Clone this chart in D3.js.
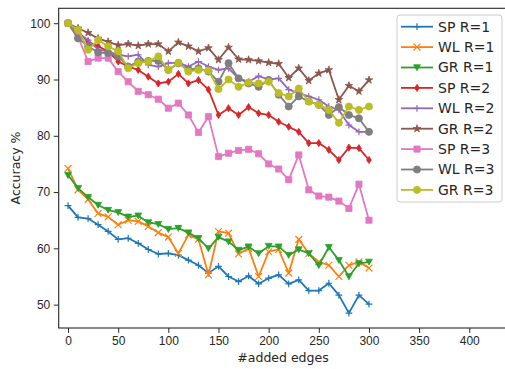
<!DOCTYPE html>
<html>
<head>
<meta charset="utf-8">
<script src="https://cdn.jsdelivr.net/npm/d3@7"></script>
<style>
  body { margin: 0; background: #fff; }
  svg { display: block; font-family: "DejaVu Sans", sans-serif; }
  .axis text { font-size: 12px; fill: #262626; }
  .axis path, .axis line { stroke: #262626; }
</style>
</head>
<body>
<svg width="505" height="369"></svg>
<script>
// added edges: 0, 10, ..., 300
const edges = d3.range(0, 301, 10);

const spR1 = [67.6, 65.5, 65.3, 64.2, 63.0, 61.6, 61.8, 60.9, 59.8, 59.0, 59.1, 58.8, 57.9, 57.0, 55.6, 56.8,
  55.0, 54.1, 55.1, 53.7, 54.7, 55.3, 53.7, 54.4, 52.5, 52.5, 53.8, 51.7, 48.5, 51.7, 50.1];
const wlR1 = [74.2, 70.4, 68.7, 66.2, 65.6, 64.2, 65.0, 64.8, 63.9, 62.8, 62.0, 59.1, 62.4, 61.6, 55.3, 63.0,
  62.7, 59.0, 60.0, 55.0, 59.4, 59.8, 55.6, 61.6, 59.1, 57.6, 57.0, 55.0, 57.0, 57.6, 56.5];
const grR1 = [73.0, 70.7, 69.1, 67.7, 66.8, 66.4, 65.6, 65.8, 64.6, 64.3, 63.4, 63.6, 62.8, 61.8, 60.0, 62.0,
  61.2, 59.7, 60.3, 59.1, 60.4, 60.3, 58.8, 59.8, 59.1, 57.0, 60.2, 57.9, 55.0, 57.3, 57.6];
const spR2 = [100, 98.5, 96.7, 95.9, 95.0, 93.2, 92.3, 91.7, 90.5, 89.3, 89.6, 91.0, 89.3, 89.9, 88.2, 83.7,
  84.9, 83.7, 85.1, 84.0, 83.7, 82.5, 81.6, 80.7, 78.7, 78.7, 77.5, 75.7, 77.9, 77.8, 75.7];
const wlR2 = [100, 98.2, 97.0, 95.3, 95.0, 94.4, 94.1, 94.4, 92.6, 92.3, 92.9, 93.0, 92.3, 93.2, 92.3, 91.7,
  92.0, 90.2, 89.6, 90.6, 90.0, 90.2, 88.2, 87.6, 87.0, 86.4, 85.2, 84.6, 81.9, 80.7, 80.7];
const grR2 = [100, 99.1, 98.3, 97.3, 96.7, 96.1, 96.3, 96.0, 96.3, 96.3, 95.0, 96.6, 95.9, 95.0, 95.6, 93.5,
  95.7, 93.6, 93.5, 93.3, 93.0, 92.8, 90.3, 92.0, 89.8, 91.1, 91.7, 86.4, 88.9, 87.9, 89.9];
const spR3 = [100, 97.6, 93.2, 93.8, 93.8, 91.4, 89.6, 87.9, 87.3, 86.5, 84.9, 85.8, 83.7, 80.6, 83.4, 76.3,
  76.9, 77.4, 77.6, 76.8, 75.0, 74.1, 72.2, 76.6, 70.4, 69.3, 69.1, 68.4, 67.1, 71.4, 65.0];
const wlR3 = [100, 97.3, 95.9, 94.8, 94.7, 94.1, 92.3, 93.2, 93.3, 93.3, 91.7, 92.9, 91.7, 92.0, 91.4, 89.6,
  92.9, 90.2, 89.3, 88.7, 89.9, 87.3, 85.2, 87.0, 86.1, 85.5, 83.7, 85.1, 83.7, 83.1, 80.7];
const grR3 = [100, 98.8, 95.3, 97.0, 95.9, 95.0, 92.0, 92.9, 93.2, 94.1, 91.7, 93.0, 91.4, 91.7, 91.6, 88.3,
  90.0, 88.7, 89.5, 89.3, 89.6, 87.6, 87.0, 88.4, 86.1, 85.5, 84.6, 82.3, 85.2, 84.6, 85.2];

const labels = ['SP R=1', 'WL R=1', 'GR R=1', 'SP R=2', 'WL R=2', 'GR R=2', 'SP R=3', 'WL R=3', 'GR R=3'];
const seriesValues = [spR1, wlR1, grR1, spR2, wlR2, grR2, spR3, wlR3, grR3];
const markers = ['plus', 'x', 'tri_down', 'diamond', 'plus', 'star', 'square', 'circle', 'circle'];
const colors = ['#1f77b4', '#ff7f0e', '#2ca02c', '#d62728', '#9467bd', '#8c564b', '#e377c2', '#7f7f7f', '#bcbd22'];

const xTicks = [0, 50, 100, 150, 200, 250, 300, 350, 400];
const yTicks = [50, 60, 70, 80, 90, 100];

const margin = {top: 8.3, left: 58.7};
const width = 450, height = 319.7;

const svg = d3.select('svg');
const g = svg.append('g').attr('transform', 'translate(' + margin.left + ',' + margin.top + ')');

const x = d3.scaleLinear().domain([-9.3, 439.3]).range([0, width]);
const y = d3.scaleLinear().domain([45.85, 102.65]).range([height, 0]);

// marker shapes
function markerPath(type) {
  const s = 3.4;
  if (type === 'plus') return `M${-s},0H${s}M0,${-s}V${s}`;
  if (type === 'x') return `M${-s},${-s}L${s},${s}M${-s},${s}L${s},${-s}`;
  if (type === 'diamond') return `M0,${-s * 1.05}L${s * 0.7},0L0,${s * 1.05}L${-s * 0.7},0Z`;
  if (type === 'tri_down') return `M${-s},${-s * 0.8}L${s},${-s * 0.8}L0,${s * 0.95}Z`;
  if (type === 'star') return d3.symbol(d3.symbolStar, 18)();
  if (type === 'square') return d3.symbol(d3.symbolSquare, 38)();
  return d3.symbol(d3.symbolCircle, 40)();
}
const stroked = t => t === 'plus' || t === 'x';

// axes
g.append('g')
  .attr('class', 'axis axis--x')
  .attr('transform', 'translate(0,' + height + ')')
  .call(d3.axisBottom(x).tickValues(xTicks).tickSize(4.9).tickPadding(3.5));

g.append('g')
  .attr('class', 'axis axis--y')
  .call(d3.axisLeft(y).tickValues(yTicks).tickSize(4.9).tickPadding(3.5));

g.selectAll('.axis .domain').remove();
g.selectAll('.axis line').attr('stroke-width', 1);

// spines
g.append('rect')
  .attr('x', 0).attr('y', 0)
  .attr('width', width).attr('height', height)
  .attr('fill', 'none')
  .attr('stroke', '#262626')
  .attr('stroke-width', 1.1);

const line = d3.line()
  .x((d, i) => x(edges[i]))
  .y(d => y(d));

seriesValues.forEach((vals, k) => {
  g.append('path')
    .datum(vals)
    .attr('d', line)
    .attr('fill', 'none')
    .attr('stroke', colors[k])
    .attr('stroke-width', 1.8)
    .attr('stroke-linejoin', 'round');

  g.append('g')
    .selectAll('path')
    .data(vals)
    .enter()
    .append('path')
    .attr('transform', (d, i) => 'translate(' + x(edges[i]) + ',' + y(d) + ')')
    .attr('d', markerPath(markers[k]))
    .attr('fill', stroked(markers[k]) ? 'none' : colors[k])
    .attr('stroke', colors[k])
    .attr('stroke-width', stroked(markers[k]) ? 1.2 : 0.8);
});

// axis labels
svg.append('text')
  .attr('x', 283)
  .attr('y', 362)
  .attr('text-anchor', 'middle')
  .style('font-size', '12.5px')
  .style('fill', '#262626')
  .text('#added edges');

svg.append('text')
  .attr('transform', 'translate(20,168) rotate(-90)')
  .attr('text-anchor', 'middle')
  .style('font-size', '12.5px')
  .style('fill', '#262626')
  .text('Accuracy %');

// legend
const legend = svg.append('g').attr('transform', 'translate(397,15)');
legend.append('rect')
  .attr('width', 105).attr('height', 187)
  .attr('rx', 3)
  .attr('fill', 'white').attr('fill-opacity', 0.8)
  .attr('stroke', '#cccccc');

labels.forEach((lab, k) => {
  const ly = 11.7 + k * 20.4;
  const row = legend.append('g').attr('transform', 'translate(0,' + ly + ')');
  row.append('line')
    .attr('x1', 4).attr('x2', 36)
    .attr('stroke', colors[k]).attr('stroke-width', 1.8);
  row.append('path')
    .attr('transform', 'translate(20,0)')
    .attr('d', markerPath(markers[k]))
    .attr('fill', stroked(markers[k]) ? 'none' : colors[k])
    .attr('stroke', colors[k])
    .attr('stroke-width', stroked(markers[k]) ? 1.2 : 0.8);
  row.append('text')
    .attr('x', 41)
    .attr('dy', '0.35em')
    .style('font-size', '14px')
    .style('fill', '#262626')
    .text(lab);
});
</script>
</body>
</html>
